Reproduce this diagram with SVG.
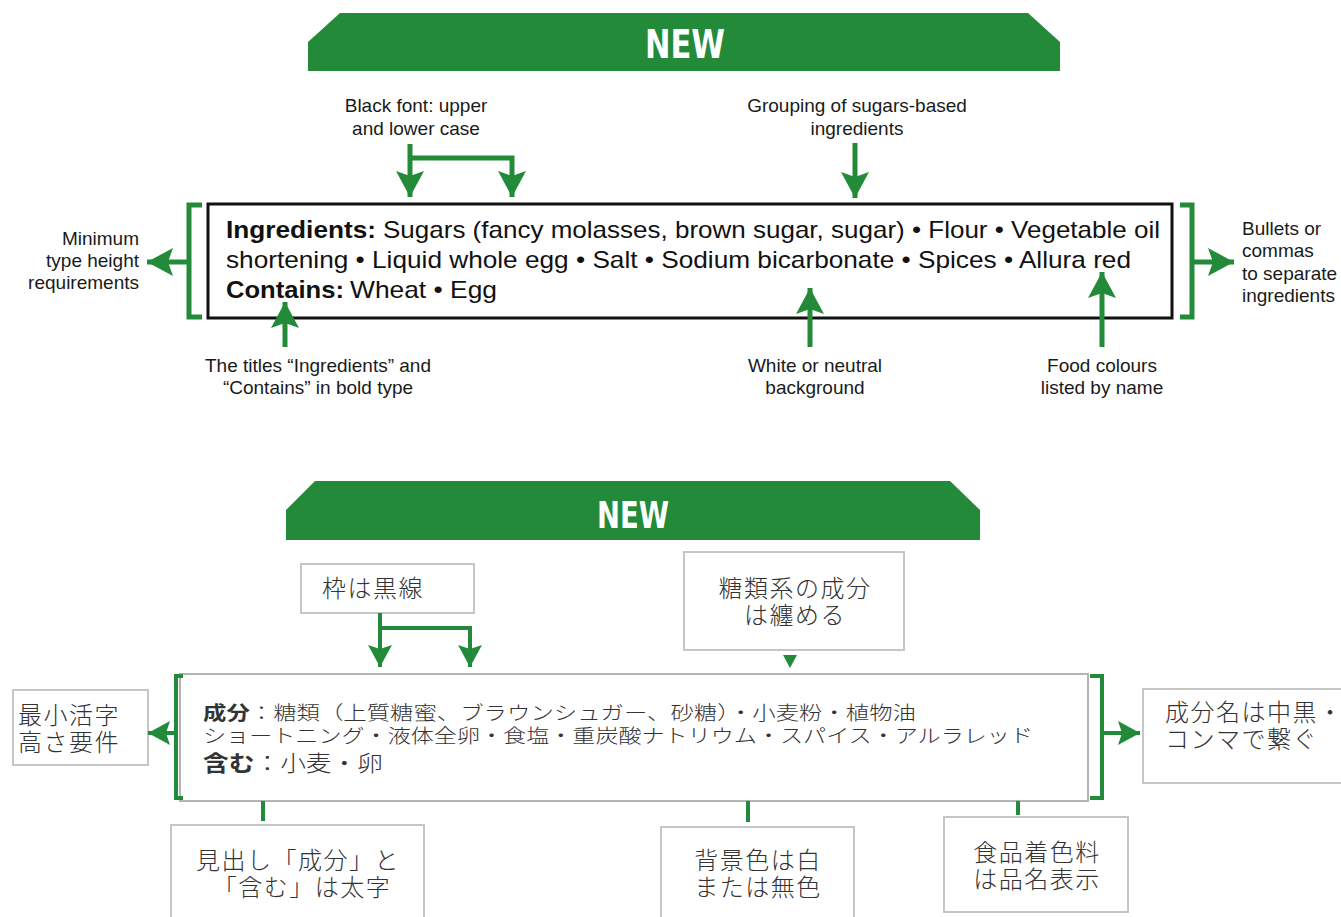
<svg xmlns="http://www.w3.org/2000/svg" width="1341" height="917" viewBox="0 0 1341 917">
<style>
.banner{fill:#228a38}
.new{font-family:"Liberation Sans Narrow","DejaVu Sans Condensed","Liberation Sans",sans-serif;font-weight:bold;fill:#fff;font-stretch:condensed}
.lbl{font-family:"Liberation Sans",Arial,sans-serif;font-size:19px;fill:#1a1a1a}
.ing{font-family:"Liberation Sans",Arial,sans-serif;font-size:24px;fill:#111}
.b{font-weight:bold}
.g{stroke:#228a38;fill:none;stroke-width:5}
.g4{stroke:#228a38;fill:none;stroke-width:4}
.jp{font-family:"Noto Sans CJK JP","Noto Sans CJK SC",sans-serif;fill:#333;font-weight:300}
.jl{font-size:24px;letter-spacing:1.5px}
.jb{fill:#fff;stroke:#c6c6c6;stroke-width:2}
</style>
<defs>
<marker id="ah" markerUnits="userSpaceOnUse" markerWidth="26" markerHeight="28" viewBox="0 0 26 28" refX="26" refY="14" orient="auto">
<path d="M0,0 L26,14 L0,28 L5,14 Z" fill="#228a38"/>
</marker>
<marker id="am" markerUnits="userSpaceOnUse" markerWidth="22" markerHeight="24" viewBox="0 0 22 24" refX="22" refY="12" orient="auto">
<path d="M0,0 L22,12 L0,24 L4,12 Z" fill="#228a38"/>
</marker>
</defs>
<rect width="1341" height="917" fill="#fff"/>

<!-- ===== Top (English) ===== -->
<g id="banner-top">
<polygon class="banner" points="308,42 340,13 1028,13 1060,42 1060,71 308,71"/>
<text class="new" x="685" y="58" font-size="39" text-anchor="middle" textLength="80" lengthAdjust="spacingAndGlyphs">NEW</text>
</g>

<g id="ingredients-box">
<rect x="208" y="204" width="964" height="114" fill="#fff" stroke="#111" stroke-width="3"/>
<text class="ing b" x="226" y="238" textLength="150" lengthAdjust="spacingAndGlyphs">Ingredients:</text>
<text class="ing" x="383" y="238" textLength="777" lengthAdjust="spacingAndGlyphs">Sugars (fancy molasses, brown sugar, sugar) • Flour • Vegetable oil</text>
<text class="ing" x="226" y="268" textLength="905" lengthAdjust="spacingAndGlyphs">shortening • Liquid whole egg • Salt • Sodium bicarbonate • Spices • Allura red</text>
<text class="ing b" x="226" y="298" textLength="118" lengthAdjust="spacingAndGlyphs">Contains:</text>
<text class="ing" x="350" y="298" textLength="147" lengthAdjust="spacingAndGlyphs">Wheat • Egg</text>
</g>

<g id="lbl-black-font">
<text class="lbl" x="416" y="112" text-anchor="middle">Black font: upper</text>
<text class="lbl" x="416" y="135" text-anchor="middle">and lower case</text>
</g>
<g id="lbl-grouping">
<text class="lbl" x="857" y="112" text-anchor="middle">Grouping of sugars-based</text>
<text class="lbl" x="857" y="135" text-anchor="middle">ingredients</text>
</g>
<g id="lbl-minimum">
<text class="lbl" x="139" y="245" text-anchor="end">Minimum</text>
<text class="lbl" x="139" y="267" text-anchor="end">type height</text>
<text class="lbl" x="139" y="289" text-anchor="end">requirements</text>
</g>
<g id="lbl-bullets">
<text class="lbl" x="1242" y="235">Bullets or</text>
<text class="lbl" x="1242" y="257">commas</text>
<text class="lbl" x="1242" y="280">to separate</text>
<text class="lbl" x="1242" y="302">ingredients</text>
</g>
<g id="lbl-titles">
<text class="lbl" x="318" y="372" text-anchor="middle">The titles “Ingredients” and</text>
<text class="lbl" x="318" y="394" text-anchor="middle">“Contains” in bold type</text>
</g>
<g id="lbl-white">
<text class="lbl" x="815" y="372" text-anchor="middle">White or neutral</text>
<text class="lbl" x="815" y="394" text-anchor="middle">background</text>
</g>
<g id="lbl-food">
<text class="lbl" x="1102" y="372" text-anchor="middle">Food colours</text>
<text class="lbl" x="1102" y="394" text-anchor="middle">listed by name</text>
</g>

<g id="connectors-top">
<path class="g" d="M410,144 V197" marker-end="url(#ah)"/>
<path class="g" d="M410,158 H512 V197" marker-end="url(#ah)"/>
<path class="g" d="M855,143 V198" marker-end="url(#ah)"/>
<path class="g" d="M202,205 H189 V317 H202"/>
<path class="g" d="M189,262 H147" marker-end="url(#ah)"/>
<path class="g" d="M1180,205 H1192 V317 H1180"/>
<path class="g" d="M1192,262 H1234" marker-end="url(#ah)"/>
<path class="g" d="M285,347 V302" marker-end="url(#ah)"/>
<path class="g" d="M810,347 V288" marker-end="url(#ah)"/>
<path class="g" d="M1102,347 V272" marker-end="url(#ah)"/>
</g>

<!-- ===== Bottom (Japanese) ===== -->
<g id="banner-jp">
<polygon class="banner" points="286,510 315,481 950,481 980,510 980,540 286,540"/>
<text class="new" x="633" y="528" font-size="37" text-anchor="middle" textLength="72" lengthAdjust="spacingAndGlyphs">NEW</text>
</g>

<g id="jp-main-box">
<rect x="180" y="674" width="908" height="127" fill="#fff" stroke="#b4b4b4" stroke-width="2"/>
<text class="jp" x="203" y="720" font-size="19" textLength="713" lengthAdjust="spacingAndGlyphs"><tspan font-weight="bold">成分</tspan>：糖類（上質糖蜜、ブラウンシュガー、砂糖）・小麦粉・植物油</text>
<text class="jp" x="203" y="743" font-size="19" textLength="830" lengthAdjust="spacingAndGlyphs">ショートニング・液体全卵・食塩・重炭酸ナトリウム・スパイス・アルラレッド</text>
<text class="jp" x="203" y="771" font-size="22" textLength="180" lengthAdjust="spacingAndGlyphs"><tspan font-weight="bold">含む</tspan>：小麦・卵</text>
</g>

<g id="jp-waku">
<rect class="jb" x="301" y="564" width="173" height="49"/>
<text class="jp jl" x="322" y="597">枠は黒線</text>
</g>
<g id="jp-tourui">
<rect class="jb" x="684" y="552" width="220" height="98"/>
<text class="jp jl" x="795" y="597" text-anchor="middle">糖類系の成分</text>
<text class="jp jl" x="795" y="624" text-anchor="middle">は纏める</text>
</g>
<g id="jp-saisho">
<rect class="jb" x="13" y="690" width="135" height="75"/>
<text class="jp jl" x="18" y="724">最小活字</text>
<text class="jp jl" x="18" y="751">高さ要件</text>
</g>
<g id="jp-seibunmei">
<rect class="jb" x="1143" y="689" width="210" height="94"/>
<text class="jp jl" x="1165" y="721">成分名は中黒・</text>
<text class="jp jl" x="1165" y="748">コンマで繋ぐ</text>
</g>
<g id="jp-midashi">
<rect class="jb" x="171" y="825" width="253" height="110"/>
<text class="jp jl" x="298" y="869" text-anchor="middle">見出し「成分」と</text>
<text class="jp jl" x="302" y="896" text-anchor="middle">「含む」は太字</text>
</g>
<g id="jp-haikei">
<rect class="jb" x="661" y="827" width="193" height="110"/>
<text class="jp jl" x="758" y="869" text-anchor="middle">背景色は白</text>
<text class="jp jl" x="758" y="896" text-anchor="middle">または無色</text>
</g>
<g id="jp-shokuhin">
<rect class="jb" x="944" y="817" width="184" height="95"/>
<text class="jp jl" x="1037" y="861" text-anchor="middle">食品着色料</text>
<text class="jp jl" x="1037" y="888" text-anchor="middle">は品名表示</text>
</g>

<g id="connectors-jp">
<path class="g4" d="M380,613 V667" marker-end="url(#am)"/>
<path class="g4" d="M380,628 H470 V667" marker-end="url(#am)"/>
<polygon points="783,655 797,655 790,668" fill="#228a38"/>
<path class="g4" d="M183,676 H176 V798 H183"/>
<path class="g4" d="M176,733 H148" marker-end="url(#am)"/>
<path class="g4" d="M1090,676 H1102 V798 H1090"/>
<path class="g4" d="M1102,733 H1140" marker-end="url(#am)"/>
<path class="g4" d="M263,801 V821"/>
<path class="g4" d="M748,801 V822"/>
<path class="g4" d="M1018,801 V815"/>
</g>
</svg>
